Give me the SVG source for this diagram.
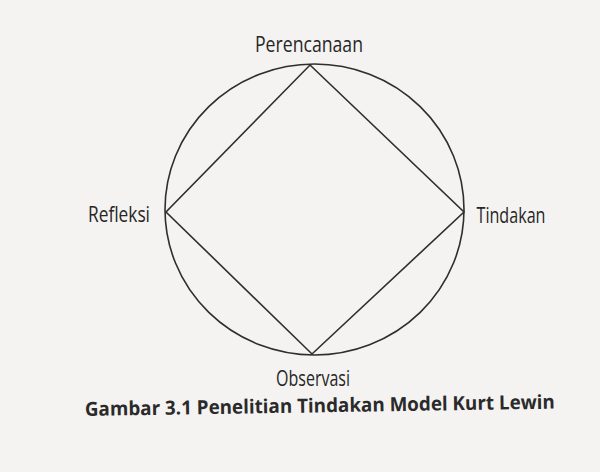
<svg xmlns="http://www.w3.org/2000/svg" width="600" height="472" viewBox="0 0 600 472">
<style>
.lbl{font-family:"Open Sans","Liberation Sans",sans-serif;font-size:21px;fill:#262626;text-anchor:middle}
.cap{font-family:"Open Sans","Liberation Sans",sans-serif;font-size:19.5px;font-weight:bold;fill:#2a2a2a}
.ln{fill:none;stroke:#2e2e2e;stroke-width:1.6}
</style>
<rect width="600" height="472" fill="#f4f3f1"/>
<g id="connectors">
<ellipse class="ln" cx="314.5" cy="209.5" rx="149.5" ry="145.5"/>
<polygon class="ln" points="310,65 464,212 312,354 166,212"/>
</g>
<g id="perencanaan"><text class="lbl" x="309" y="52" textLength="108" lengthAdjust="spacingAndGlyphs">Perencanaan</text></g>
<g id="tindakan"><text class="lbl" x="511" y="223" textLength="69" lengthAdjust="spacingAndGlyphs">Tindakan</text></g>
<g id="observasi"><text class="lbl" x="313" y="386" textLength="74" lengthAdjust="spacingAndGlyphs">Observasi</text></g>
<g id="refleksi"><text class="lbl" x="119" y="222" textLength="62" lengthAdjust="spacingAndGlyphs">Refleksi</text></g>
<g id="caption"><text class="cap" x="85" y="416" textLength="470" lengthAdjust="spacingAndGlyphs" transform="rotate(-0.9 85 416)">Gambar 3.1  Penelitian Tindakan Model Kurt Lewin</text></g>
</svg>
